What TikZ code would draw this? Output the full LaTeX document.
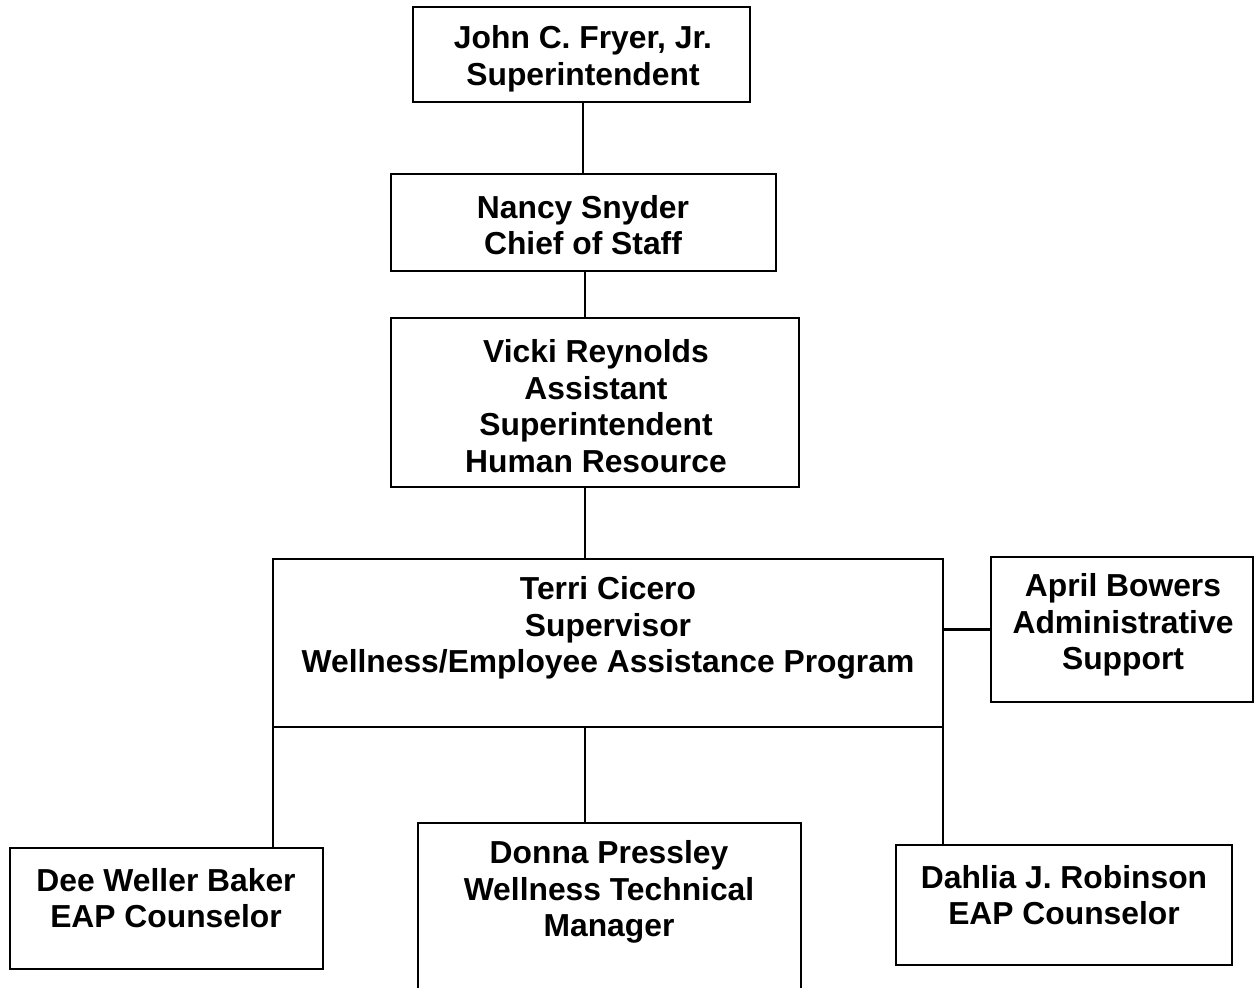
\documentclass[tikz,border=0pt]{standalone}
\usepackage{fontspec}
\setmainfont{Liberation Sans}
\usetikzlibrary{positioning}
\tikzstyle{post}=[rectangle,draw,line width=1.1pt,inner sep=0pt,outer sep=0pt]
\tikzstyle{postlabel}=[align=center,font=\bfseries\fontsize{15.9}{18.3}\selectfont,inner sep=0pt]
\tikzstyle{reportline}=[draw,line width=1.1pt]

\begin{document}
\begin{tikzpicture}[x=0.5pt,y=-0.5pt]
    % page frame, same size as the scanned chart
    \useasboundingbox (0,0) rectangle (1254,988);

    % First the boxes (width and height in pt)
    \foreach \pos/\name/\w/\h in {{(581.5,54.5)/john/168.5/47.5}, {(583.5,222.5)/nancy/192.5/48.5},
        {(595,402.5)/vicki/204/84.5}, {(608,643)/terri/335/84}, {(1122,629.5)/april/131/72.5},
        {(166.5,908.5)/dee/156.5/60.5}, {(609.5,916.5)/donna/191.5/93.5}, {(1064,905)/dahlia/168/60}}
        \node[post, minimum width=\w pt, minimum height=\h pt] (\name) at \pos {};

    % then the names and titles
    \foreach \pos/\name/\label in {{(583,59)/johnT/{John C. Fryer, Jr.\\Superintendent}},
        {(583,225)/nancyT/{Nancy Snyder\\Chief of Staff}},
        {(596,406)/vickiT/{Vicki Reynolds\\Assistant\\Superintendent\\Human Resource}},
        {(608,628)/terriT/{Terri Cicero\\Supervisor\\Wellness/Employee Assistance Program}},
        {(1123,625)/aprilT/{April Bowers\\Administrative\\Support}},
        {(166,898)/deeT/{Dee Weller Baker\\EAP Counselor}},
        {(609,892)/donnaT/{Donna Pressley\\Wellness Technical\\Manager}},
        {(1064,895)/dahliaT/{Dahlia J. Robinson\\EAP Counselor}}}
        \node[postlabel] (\name) at \pos {\label};

    % Connect the boxes
    \coordinate (topspine) at (583,0);
    \coordinate (spine) at (585,0);
    \path[reportline] (topspine |- john.south) -- (topspine |- nancy.north);
    \path[reportline] (spine |- nancy.south) -- (spine |- vicki.north);
    \path[reportline] (spine |- vicki.south) -- (spine |- terri.north);
    \path[reportline] (april.west) -- (april.west -| terri.east);
    \path[reportline] (terri.south west) -- (terri.south west |- dee.north);
    \path[reportline] (spine |- terri.south) -- (spine |- donna.north);
    \path[reportline] (terri.south east) -- (terri.south east |- dahlia.north);
\end{tikzpicture}
\end{document}
